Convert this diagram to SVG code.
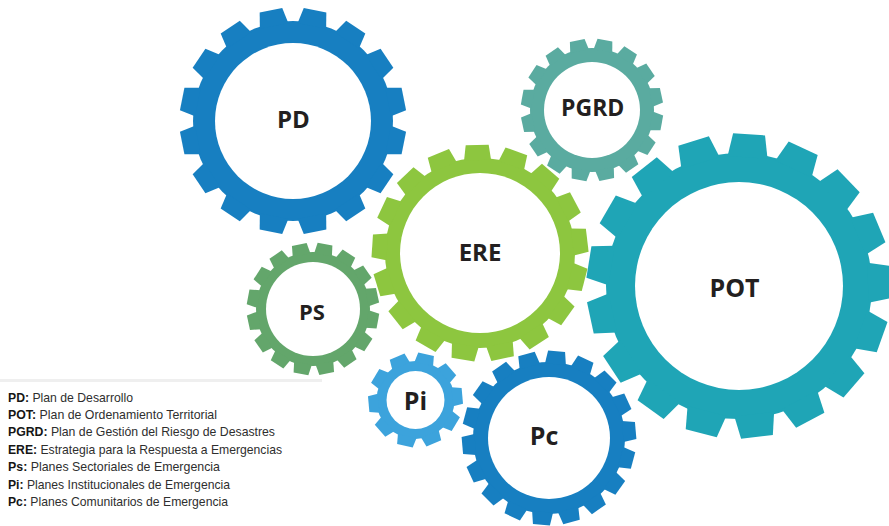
<svg xmlns="http://www.w3.org/2000/svg" xmlns:xlink="http://www.w3.org/1999/xlink" width="889" height="526" viewBox="0 0 889 526">
<style>
.lbl{font-family:"Open Sans","Liberation Sans",sans-serif;font-weight:700;fill:#231f20;text-anchor:middle}
.hole{fill:#ffffff}
.leg{font-family:"Liberation Sans",Arial,sans-serif;font-size:13.5px;fill:#2e2e2e}
.leg tspan.b{font-weight:700;fill:#151515}
.cPD{fill:#177fc1}.cPGRD{fill:#5aaba0}.cERE{fill:#8dc63f}.cPOT{fill:#1fa5b6}.cPS{fill:#63a66b}.cPi{fill:#3ca3dc}.cPc{fill:#177fc1}
</style>
<defs>
<path id="tPD" d="M-14.5,-97 L-11.5,-113 L11.5,-113 L14.5,-97Z"/>
<path id="tPGRD" d="M-9.5,-60 L-7.5,-71 L7.5,-71 L9.5,-60Z"/>
<path id="tERE" d="M-13.5,-93 L-11.5,-108 L11.5,-108 L13.5,-93Z"/>
<path id="tPOT" d="M-20,-129 L-16,-152 L16,-152 L20,-129Z"/>
<path id="tPS" d="M-9,-55 L-7.5,-66 L7.5,-66 L9,-55Z"/>
<path id="tPi" d="M-9.5,-37 L-8,-47 L8,-47 L9.5,-37Z"/>
<path id="tPc" d="M-10.5,-74 L-8.5,-87 L8.5,-87 L10.5,-74Z"/>
</defs>
<g id="connectors"></g>

<g id="POT" class="cPOT" transform="translate(739,286)">
<circle r="133"/>
<g transform="rotate(3.8)">
<use xlink:href="#tPOT"/><use xlink:href="#tPOT" transform="rotate(21.18)"/><use xlink:href="#tPOT" transform="rotate(42.35)"/><use xlink:href="#tPOT" transform="rotate(63.53)"/><use xlink:href="#tPOT" transform="rotate(84.71)"/><use xlink:href="#tPOT" transform="rotate(105.88)"/><use xlink:href="#tPOT" transform="rotate(127.06)"/><use xlink:href="#tPOT" transform="rotate(148.24)"/><use xlink:href="#tPOT" transform="rotate(169.41)"/><use xlink:href="#tPOT" transform="rotate(190.59)"/><use xlink:href="#tPOT" transform="rotate(211.76)"/><use xlink:href="#tPOT" transform="rotate(232.94)"/><use xlink:href="#tPOT" transform="rotate(254.12)"/><use xlink:href="#tPOT" transform="rotate(275.29)"/><use xlink:href="#tPOT" transform="rotate(296.47)"/><use xlink:href="#tPOT" transform="rotate(317.65)"/><use xlink:href="#tPOT" transform="rotate(338.82)"/>
</g>
<circle class="hole" r="104"/>
<text class="lbl" x="-4.5" y="10.7" font-size="25">POT</text>
</g>

<g id="PGRD" class="cPGRD" transform="translate(592,110)">
<circle r="62"/>
<g transform="rotate(10.5)">
<use xlink:href="#tPGRD"/><use xlink:href="#tPGRD" transform="rotate(22.5)"/><use xlink:href="#tPGRD" transform="rotate(45)"/><use xlink:href="#tPGRD" transform="rotate(67.5)"/><use xlink:href="#tPGRD" transform="rotate(90)"/><use xlink:href="#tPGRD" transform="rotate(112.5)"/><use xlink:href="#tPGRD" transform="rotate(135)"/><use xlink:href="#tPGRD" transform="rotate(157.5)"/><use xlink:href="#tPGRD" transform="rotate(180)"/><use xlink:href="#tPGRD" transform="rotate(202.5)"/><use xlink:href="#tPGRD" transform="rotate(225)"/><use xlink:href="#tPGRD" transform="rotate(247.5)"/><use xlink:href="#tPGRD" transform="rotate(270)"/><use xlink:href="#tPGRD" transform="rotate(292.5)"/><use xlink:href="#tPGRD" transform="rotate(315)"/><use xlink:href="#tPGRD" transform="rotate(337.5)"/>
</g>
<circle class="hole" r="48"/>
<text class="lbl" x="0.7" y="5.7" font-size="23">PGRD</text>
</g>

<g id="PD" class="cPD" transform="translate(293,121)">
<circle r="100"/>
<g transform="rotate(11.25)">
<use xlink:href="#tPD"/><use xlink:href="#tPD" transform="rotate(22.5)"/><use xlink:href="#tPD" transform="rotate(45)"/><use xlink:href="#tPD" transform="rotate(67.5)"/><use xlink:href="#tPD" transform="rotate(90)"/><use xlink:href="#tPD" transform="rotate(112.5)"/><use xlink:href="#tPD" transform="rotate(135)"/><use xlink:href="#tPD" transform="rotate(157.5)"/><use xlink:href="#tPD" transform="rotate(180)"/><use xlink:href="#tPD" transform="rotate(202.5)"/><use xlink:href="#tPD" transform="rotate(225)"/><use xlink:href="#tPD" transform="rotate(247.5)"/><use xlink:href="#tPD" transform="rotate(270)"/><use xlink:href="#tPD" transform="rotate(292.5)"/><use xlink:href="#tPD" transform="rotate(315)"/><use xlink:href="#tPD" transform="rotate(337.5)"/>
</g>
<circle class="hole" r="78"/>
<text class="lbl" x="0.3" y="7.3" font-size="24">PD</text>
</g>

<g id="PS" class="cPS" transform="translate(313,309)">
<circle r="57"/>
<g transform="rotate(-12)">
<use xlink:href="#tPS"/><use xlink:href="#tPS" transform="rotate(22.5)"/><use xlink:href="#tPS" transform="rotate(45)"/><use xlink:href="#tPS" transform="rotate(67.5)"/><use xlink:href="#tPS" transform="rotate(90)"/><use xlink:href="#tPS" transform="rotate(112.5)"/><use xlink:href="#tPS" transform="rotate(135)"/><use xlink:href="#tPS" transform="rotate(157.5)"/><use xlink:href="#tPS" transform="rotate(180)"/><use xlink:href="#tPS" transform="rotate(202.5)"/><use xlink:href="#tPS" transform="rotate(225)"/><use xlink:href="#tPS" transform="rotate(247.5)"/><use xlink:href="#tPS" transform="rotate(270)"/><use xlink:href="#tPS" transform="rotate(292.5)"/><use xlink:href="#tPS" transform="rotate(315)"/><use xlink:href="#tPS" transform="rotate(337.5)"/>
</g>
<circle class="hole" r="47"/>
<text class="lbl" x="-1" y="11" font-size="22">PS</text>
</g>

<g id="ERE" class="cERE" transform="translate(480,253)">
<circle r="95"/>
<g transform="rotate(-1.5)">
<use xlink:href="#tERE"/><use xlink:href="#tERE" transform="rotate(21.18)"/><use xlink:href="#tERE" transform="rotate(42.35)"/><use xlink:href="#tERE" transform="rotate(63.53)"/><use xlink:href="#tERE" transform="rotate(84.71)"/><use xlink:href="#tERE" transform="rotate(105.88)"/><use xlink:href="#tERE" transform="rotate(127.06)"/><use xlink:href="#tERE" transform="rotate(148.24)"/><use xlink:href="#tERE" transform="rotate(169.41)"/><use xlink:href="#tERE" transform="rotate(190.59)"/><use xlink:href="#tERE" transform="rotate(211.76)"/><use xlink:href="#tERE" transform="rotate(232.94)"/><use xlink:href="#tERE" transform="rotate(254.12)"/><use xlink:href="#tERE" transform="rotate(275.29)"/><use xlink:href="#tERE" transform="rotate(296.47)"/><use xlink:href="#tERE" transform="rotate(317.65)"/><use xlink:href="#tERE" transform="rotate(338.82)"/>
</g>
<circle class="hole" r="80"/>
<text class="lbl" x="0" y="7.7" font-size="24">ERE</text>
</g>

<g id="Pc" class="cPc" transform="translate(549,438)">
<circle r="76"/>
<g transform="rotate(5)">
<use xlink:href="#tPc"/><use xlink:href="#tPc" transform="rotate(20)"/><use xlink:href="#tPc" transform="rotate(40)"/><use xlink:href="#tPc" transform="rotate(60)"/><use xlink:href="#tPc" transform="rotate(80)"/><use xlink:href="#tPc" transform="rotate(100)"/><use xlink:href="#tPc" transform="rotate(120)"/><use xlink:href="#tPc" transform="rotate(140)"/><use xlink:href="#tPc" transform="rotate(160)"/><use xlink:href="#tPc" transform="rotate(180)"/><use xlink:href="#tPc" transform="rotate(200)"/><use xlink:href="#tPc" transform="rotate(220)"/><use xlink:href="#tPc" transform="rotate(240)"/><use xlink:href="#tPc" transform="rotate(260)"/><use xlink:href="#tPc" transform="rotate(280)"/><use xlink:href="#tPc" transform="rotate(300)"/><use xlink:href="#tPc" transform="rotate(320)"/><use xlink:href="#tPc" transform="rotate(340)"/>
</g>
<circle class="hole" r="61"/>
<text class="lbl" x="-5" y="7" font-size="25">Pc</text>
</g>

<g id="Pi" class="cPi" transform="translate(415.5,400)">
<circle r="39"/>
<g transform="rotate(13)">
<use xlink:href="#tPi"/><use xlink:href="#tPi" transform="rotate(36)"/><use xlink:href="#tPi" transform="rotate(72)"/><use xlink:href="#tPi" transform="rotate(108)"/><use xlink:href="#tPi" transform="rotate(144)"/><use xlink:href="#tPi" transform="rotate(180)"/><use xlink:href="#tPi" transform="rotate(216)"/><use xlink:href="#tPi" transform="rotate(252)"/><use xlink:href="#tPi" transform="rotate(288)"/><use xlink:href="#tPi" transform="rotate(324)"/>
</g>
<circle class="hole" r="29"/>
<text class="lbl" x="0" y="9.7" font-size="25">Pi</text>
</g>

<g id="legend">
<rect x="0" y="379" width="322" height="3" fill="#efefef"/>
<text class="leg" x="8" y="401.5" textLength="125" lengthAdjust="spacingAndGlyphs"><tspan class="b">PD:</tspan> Plan de Desarrollo</text>
<text class="leg" x="8" y="418.9" textLength="209" lengthAdjust="spacingAndGlyphs"><tspan class="b">POT:</tspan> Plan de Ordenamiento  Territorial</text>
<text class="leg" x="8" y="436.3" textLength="267" lengthAdjust="spacingAndGlyphs"><tspan class="b">PGRD:</tspan> Plan de Gestión del Riesgo de Desastres</text>
<text class="leg" x="8" y="453.7" textLength="274" lengthAdjust="spacingAndGlyphs"><tspan class="b">ERE:</tspan> Estrategia para la Respuesta a Emergencias</text>
<text class="leg" x="8" y="471.1" textLength="212" lengthAdjust="spacingAndGlyphs"><tspan class="b">Ps:</tspan> Planes  Sectoriales de Emergencia</text>
<text class="leg" x="8" y="488.5" textLength="222" lengthAdjust="spacingAndGlyphs"><tspan class="b">Pi:</tspan> Planes Institucionales de Emergencia</text>
<text class="leg" x="8" y="505.9" textLength="220" lengthAdjust="spacingAndGlyphs"><tspan class="b">Pc:</tspan> Planes Comunitarios  de Emergencia</text>
</g>
</svg>
